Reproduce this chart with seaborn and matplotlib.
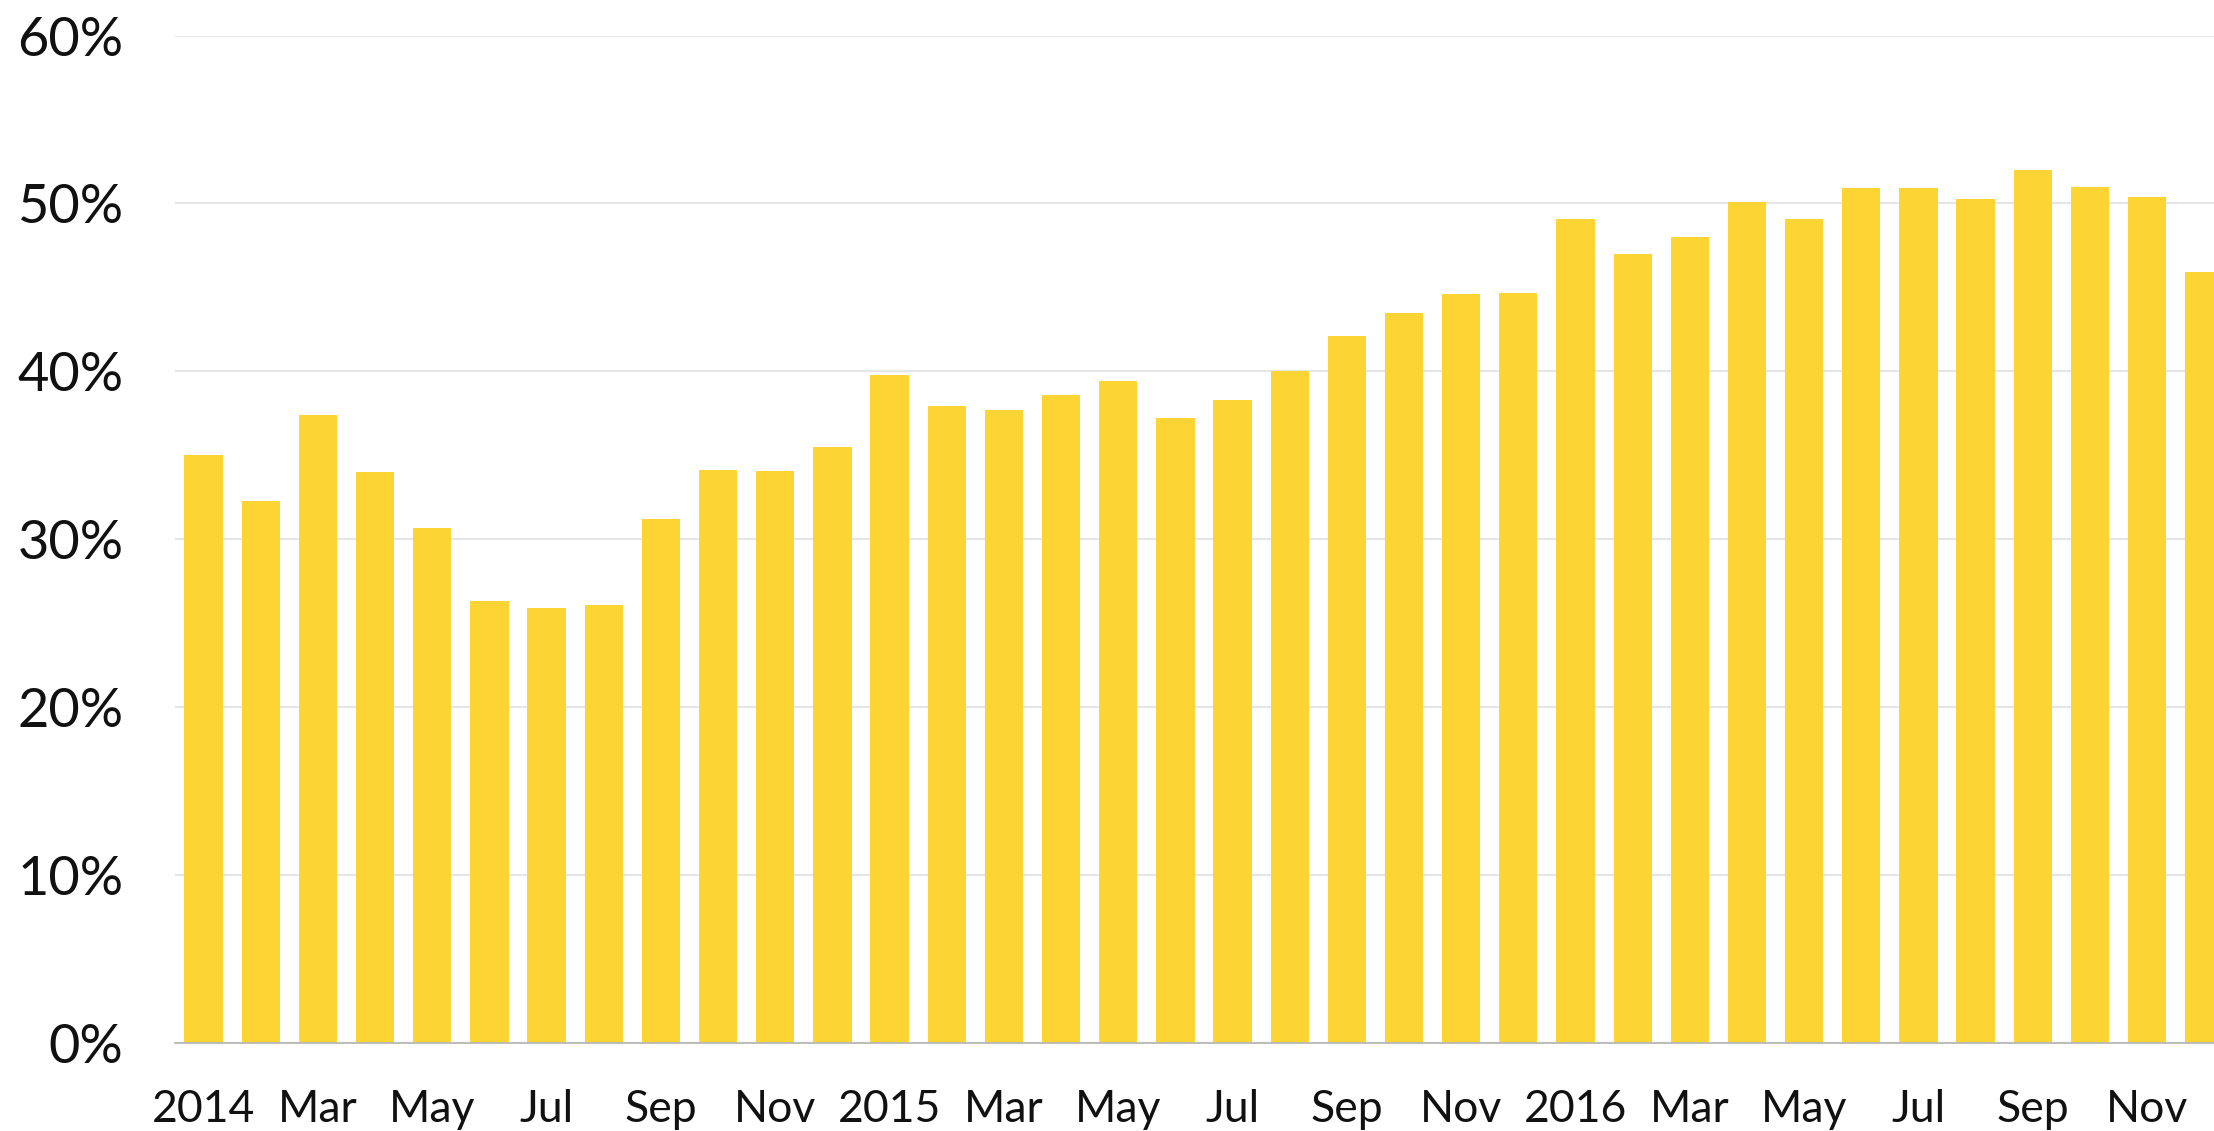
import matplotlib
matplotlib.use("Agg")
import matplotlib.pyplot as plt
import seaborn as sns
import pandas as pd

# ---- data ----
months = [f"{y}-{m:02d}" for y in (2014, 2015, 2016) for m in range(1, 13)]
values = [35.0, 32.3, 37.4, 34.0, 30.7, 26.3, 25.9, 26.1, 31.2, 34.1, 34.05, 35.5,
          39.8, 37.95, 37.7, 38.6, 39.4, 37.2, 38.3, 40.0, 42.1, 43.5, 44.6, 44.65,
          49.1, 47.0, 48.0, 50.1, 49.05, 50.9, 50.9, 50.25, 52.0, 51.0, 50.4, 45.9]
tick_labels = ["2014", "Mar", "May", "Jul", "Sep", "Nov",
               "2015", "Mar", "May", "Jul", "Sep", "Nov",
               "2016", "Mar", "May", "Jul", "Sep", "Nov"]
y_ticks = [0, 10, 20, 30, 40, 50, 60]

BAR_COLOR = "#FCD535"

sns.set_theme(style="white")
plt.rcParams["font.family"] = ["Lato", "DejaVu Sans"]

df = pd.DataFrame({"month": months, "value": values})

W, H = 2214, 1131
fig = plt.figure(figsize=(W / 100, H / 100), dpi=100)
left = 175 / W
bottom = 88 / H
top_px = 35.6
ax = fig.add_axes([left, bottom, 1 - left, (H - 88 - top_px) / H])

sns.barplot(data=df, x="month", y="value", color=BAR_COLOR, saturation=1,
            width=0.67, linewidth=0, ax=ax)

ax.set_xlim(-0.5, 35.17)
ax.set_ylim(0, 60)

ax.set_xticks(list(range(0, 36, 2)))
ax.set_xticklabels(tick_labels)
ax.set_yticks(y_ticks)
ax.set_yticklabels([f"{v}%" for v in y_ticks])

ax.tick_params(axis="x", length=0, pad=33, labelsize=32, labelcolor="#111111")
ax.tick_params(axis="y", length=0, pad=37, labelsize=39, labelcolor="#111111")

ax.set_xlabel("")
ax.set_ylabel("")

ax.yaxis.grid(True, color="#e6e6e6", linewidth=1.5)
ax.xaxis.grid(False)
ax.set_axisbelow(True)

for s in ("top", "right", "left"):
    ax.spines[s].set_visible(False)
ax.spines["bottom"].set_color("#b8b8b8")
ax.spines["bottom"].set_linewidth(1.3)

fig.savefig("out.png", dpi=100, facecolor="white")
